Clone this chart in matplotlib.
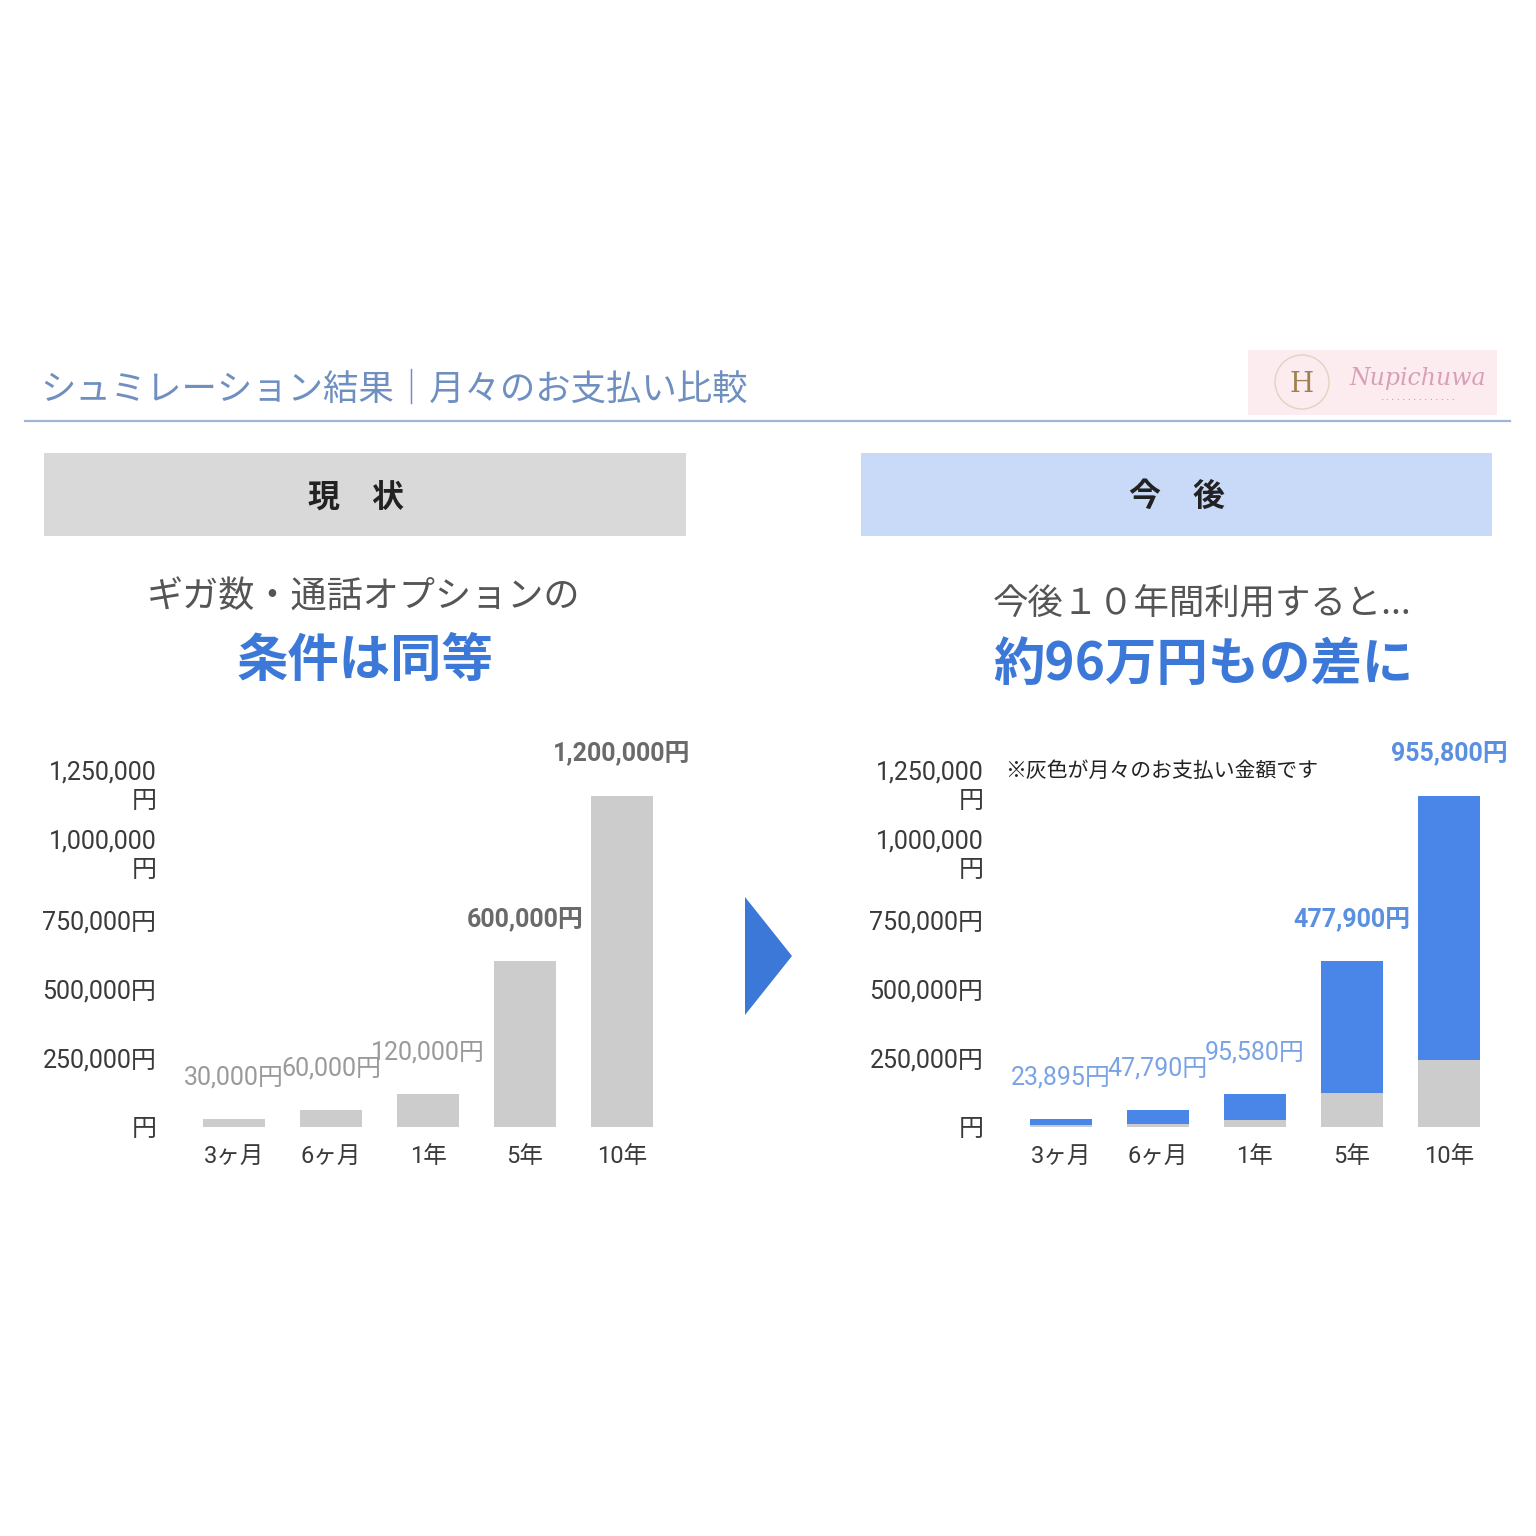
import matplotlib
matplotlib.use("Agg")
import matplotlib.pyplot as plt
from matplotlib.patches import Rectangle, Polygon, Circle

plt.rcParams['font.family'] = ['Noto Sans CJK JP', 'DejaVu Sans']

# ---- data ----
periods = ['3ヶ月', '6ヶ月', '1年', '5年', '10年']
current_total = [30000, 60000, 120000, 600000, 1200000]
current_labels = ['30,000円', '60,000円', '120,000円', '600,000円', '1,200,000円']
future_gray = [6105, 12210, 24420, 122100, 244200]
future_diff = [23895, 47790, 95580, 477900, 955800]
diff_labels = ['23,895円', '47,790円', '95,580円', '477,900円', '955,800円']
yticks = [0, 250000, 500000, 750000, 1000000, 1250000]
ytick_labels = ['円', '250,000円', '500,000円', '750,000円', '1,000,000\n円', '1,250,000\n円']

W = 1536
fig = plt.figure(figsize=(15.36, 15.36), dpi=100)
fig.patch.set_facecolor('white')

def fx(px):
    return px / W

def fy(py):
    return 1 - py / W

GRAY = '#cccccc'
BLUE = '#3c78d8'
BLUE_BAR = '#4a86e8'
NUMFONT = ['Roboto', 'Noto Sans CJK JP']

# ---- title ----
fig.text(fx(40), fy(390), 'シュミレーション結果｜月々のお支払い比較', fontsize=25.5,
         color='#6f8fc0', ha='left', va='center')
fig.add_artist(plt.Line2D([fx(25), fx(1510)], [fy(421), fy(421)], color='#9fb6d8', lw=1.6))

# ---- logo ----
fig.add_artist(Rectangle((fx(1248), fy(415)), fx(249), fx(65), facecolor='#fcecef',
                         edgecolor='none', transform=fig.transFigure))
fig.add_artist(Circle((fx(1302), fy(382)), fx(27), facecolor='none', edgecolor='#e0d4c0',
                      lw=1, transform=fig.transFigure))
fig.text(fx(1302), fy(384), 'H', fontsize=20, color='#a08050', ha='center', va='center',
         family='DejaVu Serif')
fig.text(fx(1418), fy(378), 'Nupichuwa', fontsize=17, color='#d8a0b8', ha='center', va='center',
         style='italic', family='DejaVu Serif')
fig.text(fx(1418), fy(401), '・・・・・・・・・・・・・・', fontsize=4, color='#9a9a9a', ha='center', va='center')

# ---- header boxes ----
fig.add_artist(Rectangle((fx(44), fy(536)), fx(642), fx(83), facecolor='#d9d9d9',
                         edgecolor='none', transform=fig.transFigure))
fig.text(fx(356), fy(499), '現　状', fontsize=23, fontweight='bold', color='#222222',
         ha='center', va='center')
fig.add_artist(Rectangle((fx(861), fy(536)), fx(631), fx(83), facecolor='#c9daf8',
                         edgecolor='none', transform=fig.transFigure))
fig.text(fx(1177), fy(497), '今　後', fontsize=23, fontweight='bold', color='#222222',
         ha='center', va='center')

# ---- subtitles ----
fig.text(fx(364), fy(598), 'ギガ数・通話オプションの', fontsize=26, color='#555555',
         ha='center', va='center')
fig.text(fx(365), fy(660), '条件は同等', fontsize=37, fontweight='bold', color=BLUE,
         ha='center', va='center')
fig.text(fx(1202), fy(604), '今後１０年間利用すると...', fontsize=25.5, color='#555555',
         ha='center', va='center')
fig.text(fx(1203), fy(665), '約96万円もの差に', fontsize=37, fontweight='bold', color=BLUE,
         ha='center', va='center')

# ---- arrow ----
fig.add_artist(Polygon([(fx(745), fy(897)), (fx(745), fy(1015)), (fx(792), fy(956))],
                       closed=True, facecolor=BLUE, edgecolor='none', transform=fig.transFigure))

# ---- axes ----
ymax = 1300000
ax_h = 358.6 / W
ax_w = 485 / W
axL = fig.add_axes([fx(185.5), fy(1127), ax_w, ax_h])
axR = fig.add_axes([fx(1012.5), fy(1127), ax_w, ax_h])

x = list(range(len(periods)))
bw = 0.63

for ax in (axL, axR):
    ax.set_xlim(-0.5, 4.5)
    ax.set_ylim(0, ymax)
    for s in ax.spines.values():
        s.set_visible(False)
    ax.set_yticks(yticks)
    ax.set_yticklabels(ytick_labels, fontsize=18, color='#3a3a3a', family=NUMFONT,
                       multialignment='right', linespacing=1.25)
    ax.set_xticks(x)
    ax.set_xticklabels(periods, fontsize=17, color='#3a3a3a', family=NUMFONT)
    ax.tick_params(axis='y', length=0, pad=21)
    ax.tick_params(axis='x', length=0, pad=13)
    ax.patch.set_alpha(0)

# left bars
axL.bar(x, current_total, width=bw, color=GRAY, edgecolor='none')
for i, (v, lab) in enumerate(zip(current_total, current_labels)):
    big = v >= 600000
    axL.annotate(lab, (i, v), xytext=(0, 30), textcoords='offset points', ha='center',
                 va='center', fontsize=18, family=NUMFONT,
                 color='#6a6a6a' if big else '#9a9a9a',
                 fontweight='bold' if big else 'normal', annotation_clip=False)

# right stacked bars
axR.bar(x, future_gray, width=bw, color=GRAY, edgecolor='none')
axR.bar(x, future_diff, bottom=future_gray, width=bw, color=BLUE_BAR, edgecolor='none')
for i, (g, d, lab) in enumerate(zip(future_gray, future_diff, diff_labels)):
    big = d >= 400000
    axR.annotate(lab, (i, g + d), xytext=(0, 30), textcoords='offset points', ha='center',
                 va='center', fontsize=18, family=NUMFONT,
                 color='#5b8fe0' if big else '#7aa3e6',
                 fontweight='bold' if big else 'normal', annotation_clip=False)

fig.text(fx(1005), fy(771), '※灰色が月々のお支払い金額です', fontsize=15, color='#222222',
         ha='left', va='center')

fig.savefig('out.png', dpi=100, facecolor='white')
